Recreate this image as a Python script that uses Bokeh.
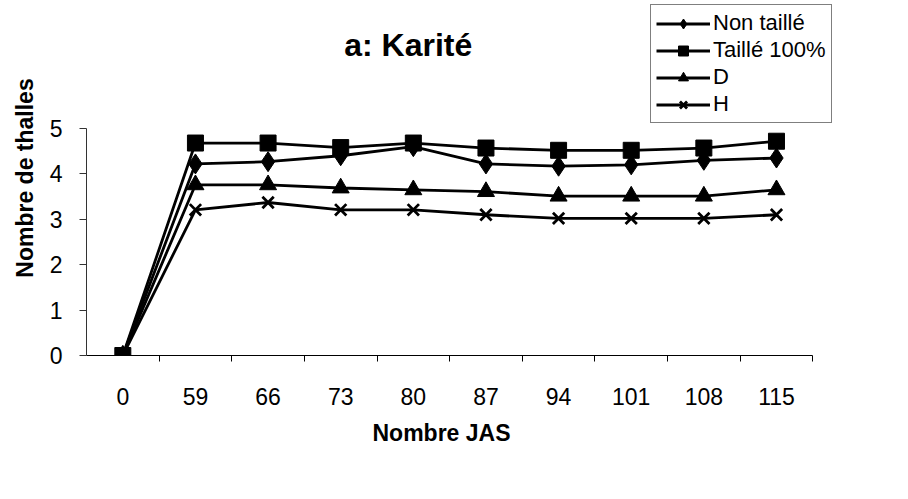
from bokeh.plotting import figure
from bokeh.models import (Range1d, LinearAxis, FixedTicker, Legend, LegendItem,
                          ColumnDataSource, Label, Title)
from bokeh.embed import file_html
from bokeh.resources import INLINE

# ---- data ----
days = ["0", "59", "66", "73", "80", "87", "94", "101", "108", "115"]
non_taille = [0, 4.22, 4.27, 4.40, 4.60, 4.22, 4.17, 4.20, 4.30, 4.35]
taille_100 = [0, 4.68, 4.68, 4.58, 4.68, 4.57, 4.52, 4.52, 4.57, 4.72]
d_vals = [0, 3.76, 3.76, 3.69, 3.65, 3.61, 3.51, 3.51, 3.51, 3.65]
h_vals = [0, 3.21, 3.37, 3.21, 3.21, 3.10, 3.02, 3.02, 3.02, 3.10]
y_ticks = [0, 1, 2, 3, 4, 5]
series_names = ["Non taillé", "Taillé 100%", "D", "H"]
title_text = "a: Karité"
x_title = "Nombre JAS"
y_title = "Nombre de thalles"

FONT = "Liberation Sans"
n = len(days)
pos = list(range(n))  # category slot positions
Y_TOP = 7.82          # room above the value axis for title and legend
X_RIGHT = n + 0.57    # room right of the last category for the legend box

p = figure(x_range=Range1d(-0.5, X_RIGHT),
           y_range=Range1d(0, Y_TOP),
           width=890, height=483, title=None,
           x_axis_type=None,
           output_backend="svg", toolbar_location=None,
           min_border_left=86, min_border_right=0,
           min_border_top=0, min_border_bottom=128)
p.outline_line_color = None
p.xgrid.grid_line_color = None
p.ygrid.grid_line_color = None
p.background_fill_color = "white"
p.border_fill_color = "white"

# chart title
p.add_layout(Label(x=3.93, y=6.83, text=title_text, text_font=FONT,
                   text_font_size="32px", text_font_style="bold",
                   text_color="black", text_align="center",
                   text_baseline="middle"))

# x axis: tick marks at category boundaries
bounds_ticks = [i + 0.5 for i in pos]
tick_axis = LinearAxis(ticker=FixedTicker(ticks=bounds_ticks),
                       major_label_overrides={t: "" for t in bounds_ticks})
tick_axis.bounds = (-0.5, n - 0.5)
tick_axis.major_label_standoff = 0
tick_axis.major_tick_out = 6
tick_axis.major_tick_in = 0
tick_axis.minor_tick_line_color = None
tick_axis.axis_line_color = "black"
tick_axis.major_tick_line_color = "black"
p.add_layout(tick_axis, "below")

label_axis = LinearAxis(ticker=FixedTicker(ticks=pos),
                        major_label_overrides={i: d for i, d in zip(pos, days)})
label_axis.bounds = (-0.5, n - 0.5)
label_axis.axis_line_color = None
label_axis.major_tick_line_color = None
label_axis.minor_tick_line_color = None
label_axis.major_label_text_font = FONT
label_axis.major_label_text_font_size = "23px"
label_axis.major_label_text_color = "black"
label_axis.major_label_standoff = 20
p.add_layout(label_axis, "below")

xt = Title(text=x_title, align="left", offset=286, text_font=FONT,
           text_font_size="23px", text_font_style="bold", text_color="black",
           standoff=21)
p.add_layout(xt, "below")

# y axis (drawn only over 0..5)
ya = p.yaxis[0]
ya.ticker = FixedTicker(ticks=y_ticks)
ya.bounds = (0, 5)
ya.major_tick_out = 7
ya.major_tick_in = 0
ya.minor_tick_line_color = None
ya.axis_line_color = "#333333"
ya.major_tick_line_color = "#333333"
ya.major_label_text_font = FONT
ya.major_label_text_font_size = "23px"
ya.major_label_text_color = "black"
ya.major_label_standoff = 17
ya.axis_label = y_title
ya.axis_label_text_font = FONT
ya.axis_label_text_font_size = "23px"
ya.axis_label_text_font_style = "bold"
ya.axis_label_text_color = "black"
ya.axis_label_standoff = 9

source = ColumnDataSource(dict(x=pos, a=non_taille, b=taille_100, d=d_vals, h=h_vals))

specs = [("a", "diamond", 20), ("b", "square", 16), ("d", "triangle", 17), ("h", "x", 16)]
items = []
for name, (col, marker, size) in zip(series_names, specs):
    ln = p.line("x", col, source=source, line_color="black", line_width=2.8)
    sc = p.scatter("x", col, source=source, marker=marker, size=size,
                   fill_color="black", line_color="black",
                   line_width=2.8 if marker == "x" else 1)
    items.append(LegendItem(label=name, renderers=[ln, sc]))

legend = Legend(items=items, location=(564, 232))
legend.border_line_color = "black"
legend.border_line_width = 1
legend.background_fill_color = "white"
legend.background_fill_alpha = 1
legend.label_text_font = FONT
legend.label_text_font_size = "22px"
legend.label_text_color = "black"
legend.glyph_width = 54
legend.glyph_height = 25
legend.label_height = 25
legend.label_standoff = 3
legend.spacing = 1
legend.padding = 5
legend.margin = 0
p.add_layout(legend, "center")

open("out.html", "w").write(file_html(p, INLINE))
